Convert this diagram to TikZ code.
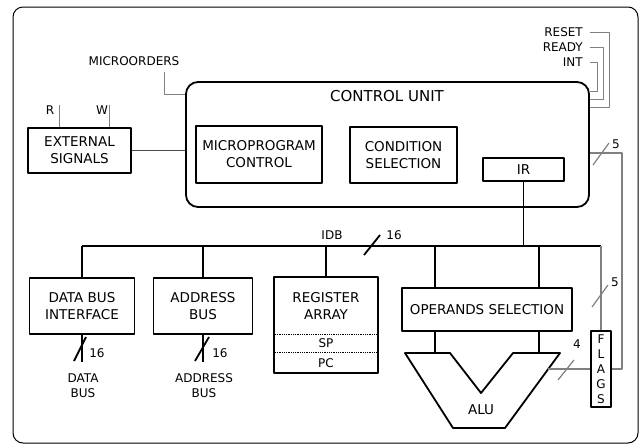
\documentclass[tikz,border=0pt]{standalone}
\usepackage{fontspec}
\setmainfont{DejaVu Sans}
\usetikzlibrary{calc}

\tikzset{
  blk/.style={draw,line width=1.8pt,align=center,inner sep=0pt,font=\fontsize{13.5}{17}\selectfont},
  lbl/.style={inner sep=0pt,align=center,font=\fontsize{12}{15}\selectfont},
  bus/.style={line width=1.8pt},
  sig/.style={draw=black!50,line width=1.2pt},
  sigthin/.style={draw=black!50,line width=0.9pt},
}

\begin{document}
\begin{tikzpicture}[x=1pt,y=-1pt,line join=round]
  \useasboundingbox (0,0) rectangle (643,445);
  \draw[line width=1pt,rounded corners=10pt] (13,7) rectangle (638,443);

  % control unit
  \node[blk,rounded corners=12pt,minimum width=403pt,minimum height=125pt] (cu) at (387.5,144.5) {};
  \node[font=\fontsize{15}{18}\selectfont,inner sep=0pt] (cut) at (387,96) {CONTROL UNIT};
  \node[blk,minimum width=126pt,minimum height=57pt] (mpc) at (259,154.5) {MICROPROGRAM\\CONTROL};
  \node[blk,minimum width=107pt,minimum height=56pt] (cs) at (403.5,155) {CONDITION\\SELECTION};
  \node[blk,minimum width=81pt,minimum height=23pt] (ir) at (523.5,169.5) {IR};

  % external signals
  \node[blk,minimum width=103pt,minimum height=45pt] (ext) at (79.5,150.5) {EXTERNAL\\SIGNALS};
  \node[lbl] (rd) at (50,110) {R};
  \node[lbl] (wr) at (102,110) {W};
  \coordinate (rIn) at (59,105);
  \coordinate (wIn) at (109,105);
  \draw[sigthin] (rIn) -- (rIn |- ext.north);
  \draw[sigthin] (wIn) -- (wIn |- ext.north);
  \draw[draw=black!70,line width=1.3pt] (ext.east) -- (ext.east -| cu.west);

  \node[lbl] (mo) at (134,61) {MICROORDERS};
  \coordinate (moT) at (164,72);
  \draw[sigthin] (moT) |- (cu.west |- {(0,94)});

  % interrupt lines
  \node[lbl,anchor=east] (rst) at (583,32) {RESET};
  \node[lbl,anchor=east] (rdy) at (583,47) {READY};
  \node[lbl,anchor=east] (int) at (583,62) {INT};
  \draw[sigthin] ([xshift=7pt]rst.east) -| (609,107) -- (cu.east |- {(0,107)});
  \draw[sigthin] ([xshift=7pt]rdy.east) -| (603,99) -- (cu.east |- {(0,99)});
  \draw[sigthin] ([xshift=7pt]int.east) -| (597,91) -- (cu.east |- {(0,91)});

  % internal data bus
  \node[blk,minimum width=105pt,minimum height=56pt] (dbi) at (82,306) {DATA BUS\\INTERFACE};
  \node[blk,minimum width=99pt,minimum height=56pt] (adr) at (203,306) {ADDRESS\\BUS};
  \node[blk,minimum width=104pt,minimum height=96pt] (reg) at (326,325) {};
  \node[blk,draw=none] (regt) at (326,306) {REGISTER\\ARRAY};
  \node[lbl] (sp) at (326,343) {SP};
  \node[lbl] (pc) at (326,363) {PC};
  \draw[densely dotted,line width=0.8pt] (reg.west |- {(0,334)}) -- (reg.east |- {(0,334)});
  \draw[densely dotted,line width=0.8pt] (reg.west |- {(0,352)}) -- (reg.east |- {(0,352)});
  \node[blk,minimum width=170pt,minimum height=43pt] (ops) at (487,309.5) {OPERANDS SELECTION};
  \node[blk,minimum width=20pt,minimum height=76pt,font=\fontsize{12}{15}\selectfont] (flags) at (601,369) {F\\L\\A\\G\\S};

  \coordinate (idbW) at (82,246);
  \coordinate (idbE) at (601,246);
  \coordinate (opA) at (435,246);
  \coordinate (opB) at (539,246);
  \draw[bus] (idbW) -- (idbE);
  \draw[bus] (dbi.north) -- (dbi.north |- idbW);
  \draw[bus] (adr.north) -- (adr.north |- idbW);
  \draw[bus] (reg.north) -- (reg.north |- idbW);
  \draw[bus] (ir.south) -- (ir.south |- idbW);
  \draw[bus] (opA) -- (opA |- ops.north);
  \draw[bus] (opB) -- (opB |- ops.north);
  \node[lbl] (idb) at (332,235) {IDB};
  \coordinate (s3) at (372,245);
  \draw[bus] ([shift={(-8,10)}]s3) -- ([shift={(8,-10)}]s3);
  \node[lbl] (n3) at (394,235) {16};

  % ALU
  \coordinate (a1) at (405,353);
  \coordinate (a2) at (450,353);
  \coordinate (a3) at (481,393);
  \coordinate (a4) at (513,353);
  \coordinate (a5) at (560,353);
  \coordinate (a6) at (505,428);
  \coordinate (a7) at (453,428);
  \draw[bus] (a1) -- (a2) -- (a3) -- (a4) -- (a5) -- (a6) -- (a7) -- cycle;
  \node[blk,draw=none] (alu) at (481,410) {ALU};
  \draw[bus] (opA |- ops.south) -- (opA |- a1);
  \draw[bus] (opB |- ops.south) -- (opB |- a1);

  % flags
  \coordinate (aluR) at (548.3,369);
  \coordinate (rt) at (622,153);
  \draw[sig] (aluR) -- (flags.west);
  \draw[sig] (idbE) -- (flags.north);
  \draw[sig] (cu.east |- rt) -- (rt) |- (flags.east);
  \coordinate (s4) at (601,154);
  \draw[sig] ([shift={(-8,11)}]s4) -- ([shift={(8,-11)}]s4);
  \node[lbl] (n4) at (616,144) {5};
  \coordinate (s5) at (600,296);
  \draw[sig] ([shift={(-8,11)}]s5) -- ([shift={(8,-11)}]s5);
  \node[lbl] (n5) at (615,282) {5};
  \coordinate (s6) at (566,370);
  \draw[sig] ([shift={(-8,10)}]s6) -- ([shift={(8,-10)}]s6);
  \node[lbl] (n6) at (577,344) {4};

  % external buses
  \coordinate (dbOut) at (82,362);
  \coordinate (adOut) at (203,362);
  \draw[bus] (dbi.south) -- (dbOut);
  \draw[bus] (adr.south) -- (adOut);
  \coordinate (s1) at (80,349);
  \draw[bus] ([shift={(-6,12)}]s1) -- ([shift={(6,-12)}]s1);
  \coordinate (s2) at (202,349);
  \draw[bus] ([shift={(-7,12)}]s2) -- ([shift={(7,-12)}]s2);
  \node[lbl] (n1) at (97,353) {16};
  \node[lbl] (n2) at (220,353) {16};
  \node[lbl] (dbus) at (83,386) {DATA\\BUS};
  \node[lbl] (abus) at (204,386) {ADDRESS\\BUS};
\end{tikzpicture}
\end{document}
